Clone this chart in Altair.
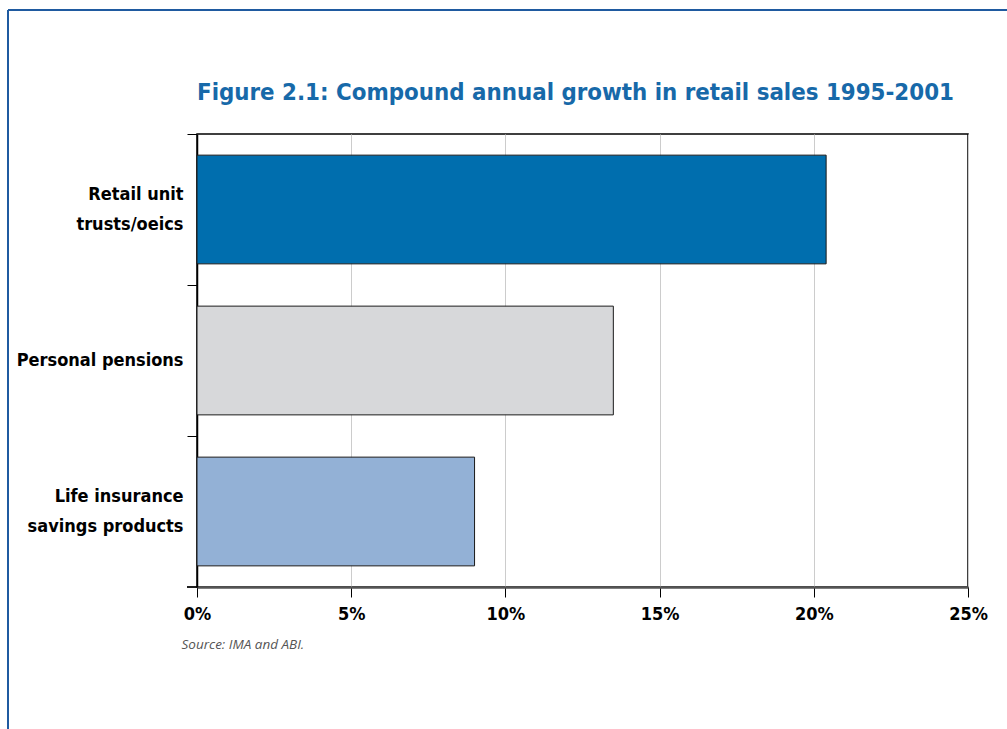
import altair as alt
import pandas as pd

categories = ["Retail unit\ntrusts/oeics", "Personal pensions", "Life insurance\nsavings products"]
growth = [0.204, 0.135, 0.090]
bar_colors = ["#006eae", "#d7d8da", "#93b1d6"]
x_ticks = [0, 0.05, 0.10, 0.15, 0.20, 0.25]
title_text = "Figure 2.1: Compound annual growth in retail sales 1995-2001"

df = pd.DataFrame({"category": categories, "growth": growth})

FONT = "DejaVu Sans Condensed, sans-serif"
W, H = 771, 453
STEP = H / 3
TOFF = 0.14 * STEP

bars = alt.Chart(df).mark_bar(stroke="#1a1a1a", strokeWidth=1).encode(
    y=alt.Y("category:N", sort=categories, title=None,
            scale=alt.Scale(paddingInner=0.28, paddingOuter=0.14),
            axis=alt.Axis(bandPosition=0, tickOffset=-TOFF,
                          labelOffset={"condition": {"test": "indexof(datum.label, '\\n') >= 0",
                                                     "value": TOFF - 15},
                                       "value": TOFF},
                          labelExpr="split(datum.label, '\\n')",
                          labelFont=FONT, labelFontWeight="bold", labelFontSize=18,
                          labelColor="black", labelLineHeight=30, labelPadding=4,
                          tickSize=10, tickColor="black", domainColor="black",
                          domainWidth=1.5, grid=False)),
    x=alt.X("growth:Q", title="Source: IMA and ABI.",
            scale=alt.Scale(domain=[0, 0.25], nice=False),
            axis=alt.Axis(values=x_ticks, format=".0%", labelFont=FONT, labelFlush=False,
                          labelFontWeight="bold", labelFontSize=18, labelColor="black",
                          labelPadding=8, tickSize=10, tickColor="black",
                          domainColor="#555555", domainWidth=2.5,
                          grid=True, gridColor="#cccccc", gridWidth=1,
                          titleFont="Open Sans", titleFontStyle="italic",
                          titleFontWeight="normal", titleFontSize=13.5,
                          titleColor="#555555", titleAnchor="start", titleAlign="left",
                          titleX=-16, titleY=61, titleBaseline="alphabetic")),
    color=alt.Color("category:N", scale=alt.Scale(domain=categories, range=bar_colors),
                    legend=None),
)

bottom_tick = alt.Chart(df).mark_rule(color="black", strokeWidth=1).encode(
    x=alt.value(-10), x2=alt.value(0), y=alt.value(H))

title = alt.Chart(pd.DataFrame({"t": [title_text]})).mark_text(
    font=FONT, fontSize=23.8, fontWeight="bold", color="#1769a9",
    align="left", baseline="alphabetic").encode(
    text="t:N", x=alt.value(0), y=alt.value(-34))

border_top = alt.Chart(df).mark_rule(color="#1f5aa0", strokeWidth=2).encode(
    x=alt.value(-189), x2=alt.value(W + 60), y=alt.value(-124))
border_left = alt.Chart(df).mark_rule(color="#1f5aa0", strokeWidth=2).encode(
    x=alt.value(-189), y=alt.value(-124), y2=alt.value(H + 160))

chart = alt.layer(bars, bottom_tick, title, border_top, border_left).properties(
    width=W, height=H, background="white",
    padding={"left": 197, "top": 134, "right": 39, "bottom": 142},
    autosize=alt.AutoSizeParams(type="none"),
).configure_view(stroke="black", strokeWidth=1.5)

chart.save("out.html", embed_options={"renderer": "svg", "actions": False})
